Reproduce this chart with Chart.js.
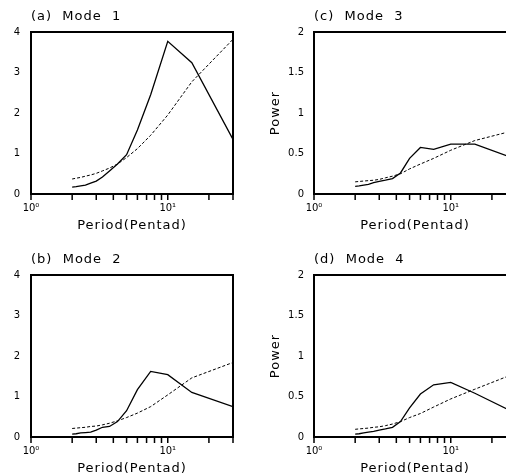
<!DOCTYPE html>
<html>
<head>
<meta charset="utf-8">
<script src="https://cdn.jsdelivr.net/npm/chart.js@4"></script>
<style>
  html, body { margin: 0; padding: 0; background: #fff; }
  #wrap { position: relative; width: 506px; height: 476px; overflow: hidden; background: #fff; }
  canvas { position: absolute; }
</style>
</head>
<body>
<div id="wrap">
  <canvas id="pa" width="253" height="243" style="left:0;top:0"></canvas>
  <canvas id="pc" width="280" height="243" style="left:253px;top:0"></canvas>
  <canvas id="pb" width="253" height="243" style="left:0;top:243px"></canvas>
  <canvas id="pd" width="280" height="243" style="left:253px;top:243px"></canvas>
</div>
<script>
// periods (pentads) of the spectral estimates
const periods = [2, 2.14, 2.31, 2.5, 2.73, 3, 3.33, 3.75, 4.29, 5, 6, 7.5, 10, 15, 30];

// power spectra (solid) and red-noise reference (dashed)
const mode1Power = [0.17, 0.18, 0.2, 0.22, 0.27, 0.32, 0.42, 0.57, 0.74, 0.97, 1.58, 2.45, 3.77, 3.24, 1.35];
const mode1Red   = [0.37, 0.39, 0.41, 0.44, 0.47, 0.51, 0.57, 0.64, 0.74, 0.9, 1.12, 1.45, 1.95, 2.77, 3.82];
const mode2Power = [0.07, 0.08, 0.1, 0.11, 0.12, 0.17, 0.24, 0.26, 0.38, 0.65, 1.17, 1.62, 1.54, 1.1, 0.75];
const mode2Red   = [0.21, 0.22, 0.23, 0.24, 0.26, 0.27, 0.3, 0.34, 0.4, 0.48, 0.59, 0.75, 1.04, 1.46, 1.84];
const mode3Power = [0.095, 0.1, 0.11, 0.12, 0.14, 0.155, 0.17, 0.19, 0.26, 0.44, 0.575, 0.55, 0.615, 0.615, 0.43];
const mode3Red   = [0.15, 0.155, 0.16, 0.165, 0.17, 0.18, 0.2, 0.22, 0.25, 0.31, 0.37, 0.44, 0.54, 0.66, 0.79];
const mode4Power = [0.035, 0.04, 0.05, 0.06, 0.07, 0.085, 0.1, 0.12, 0.19, 0.36, 0.53, 0.645, 0.675, 0.54, 0.29];
const mode4Red   = [0.095, 0.1, 0.105, 0.11, 0.12, 0.126, 0.14, 0.16, 0.19, 0.24, 0.29, 0.37, 0.47, 0.59, 0.79];

// axis ticks
const xTicks = [1, 2, 3, 4, 5, 6, 7, 8, 9, 10, 20, 30];
const xTickLabels = { 1: '10\u2070', 10: '10\u00b9' };
const yTicksLeft = [0, 1, 2, 3, 4];
const yTicksRight = [0, 0.5, 1, 1.5, 2];

const FONT = 'DejaVu Sans';

const panelText = {
  id: 'panelText',
  afterDraw(chart, args, opts) {
    const { ctx, chartArea: a } = chart;
    const xs = chart.scales.x;
    ctx.save();
    // frame
    ctx.strokeStyle = '#000';
    ctx.lineWidth = 2;
    ctx.strokeRect(a.left, a.top, a.right - a.left, a.bottom - a.top);
    // tick marks under the x axis, from the log scale's range
    ctx.fillStyle = '#000';
    const span = Math.log(xs.max / xs.min);
    for (let i = 0; i < xTicks.length; i++) {
      const px = a.left + (a.right - a.left) * Math.log(xTicks[i] / xs.min) / span;
      ctx.fillRect(px - 0.75, a.bottom, 1.5, 6);
    }
    // texts
    ctx.letterSpacing = '1px';
    ctx.font = '13px "' + FONT + '"';
    ctx.textBaseline = 'middle';
    ctx.textAlign = 'left';
    ctx.fillText(opts.title, a.left, 17);
    ctx.textAlign = 'center';
    ctx.fillText(opts.xLabel, (a.left + a.right) / 2, 226);
    if (opts.yLabel) {
      ctx.translate(22.5, (a.top + a.bottom) / 2);
      ctx.rotate(-Math.PI / 2);
      ctx.fillText(opts.yLabel, 0, 0);
    }
    ctx.restore();
  }
};

function points(vals) {
  return periods.map((p, i) => ({ x: p, y: vals[i] }));
}

function panel(id, title, power, red, yTicks, yMax, right) {
  const yWidth = right ? 61 : 31;
  const canvas = document.getElementById(id);
  new Chart(canvas, {
    type: 'line',
    data: {
      datasets: [
        { label: 'Power', data: points(power), borderColor: '#000', borderWidth: 1.3,
          pointRadius: 0, tension: 0, fill: false },
        { label: 'Red noise', data: points(red), borderColor: '#000', borderWidth: 1,
          borderDash: [3, 2], pointRadius: 0, tension: 0, fill: false }
      ]
    },
    options: {
      responsive: false,
      animation: false,
      layout: { padding: { top: 32, left: 0, bottom: 0, right: canvas.width - yWidth - 202 } },
      plugins: {
        legend: { display: false },
        tooltip: { enabled: false },
        panelText: { title: title, xLabel: 'Period(Pentad)', yLabel: right ? 'Power' : null }
      },
      scales: {
        x: {
          type: 'logarithmic',
          min: 1, max: 30,
          afterBuildTicks: s => { s.ticks = xTicks.map(v => ({ value: v })); },
          afterFit: s => { s.height = canvas.height - 194; },
          grid: { display: false, drawTicks: false },
          border: { display: false },
          ticks: {
            autoSkip: false, maxRotation: 0, padding: 8, color: '#000',
            font: { family: FONT, size: 10 },
            callback: v => xTickLabels[v] || ''
          }
        },
        y: {
          min: 0, max: yMax,
          afterBuildTicks: s => { s.ticks = yTicks.map(v => ({ value: v })); },
          afterFit: s => { s.width = yWidth; },
          grid: { display: false, drawTicks: false },
          border: { display: false },
          ticks: { padding: right ? 10 : 11, color: '#000', font: { family: FONT, size: 10 },
                   callback: v => String(v) }
        }
      }
    },
    plugins: [panelText]
  });
}

panel('pa', '(a)  Mode  1', mode1Power, mode1Red, yTicksLeft, 4, false);
panel('pc', '(c)  Mode  3', mode3Power, mode3Red, yTicksRight, 2, true);
panel('pb', '(b)  Mode  2', mode2Power, mode2Red, yTicksLeft, 4, false);
panel('pd', '(d)  Mode  4', mode4Power, mode4Red, yTicksRight, 2, true);
</script>
</body>
</html>
